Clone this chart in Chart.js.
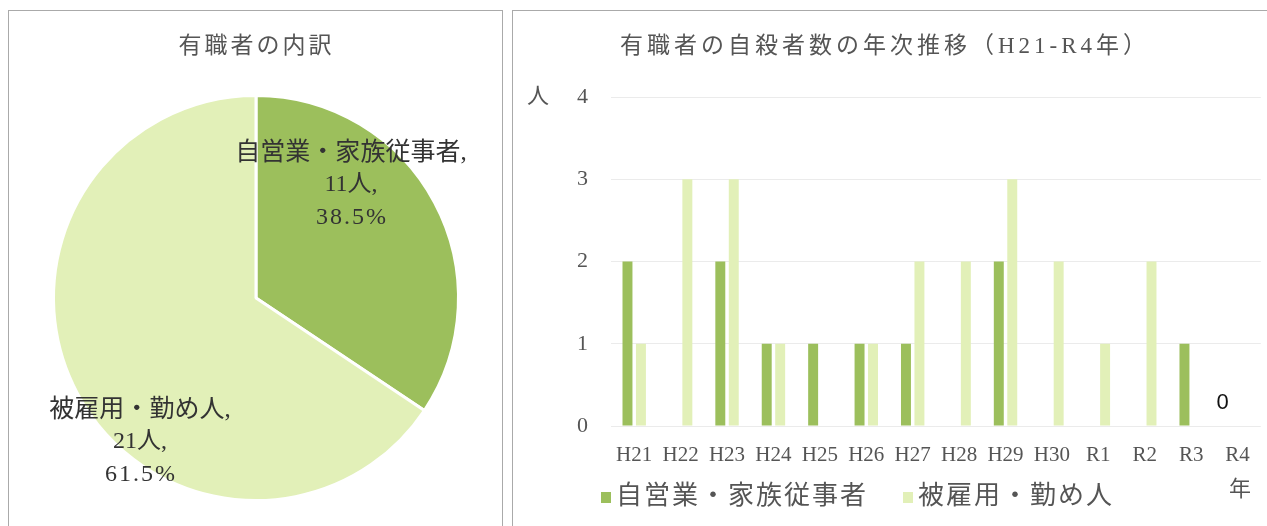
<!DOCTYPE html>
<html>
<head>
<meta charset="utf-8">
<script src="https://cdn.jsdelivr.net/npm/chart.js@4"></script>
<style>
  body { margin: 0; background: #fff; width: 1267px; height: 526px; overflow: hidden; position: relative; }
  .panel { position: absolute; border: 1px solid #aaa; border-bottom: none; box-sizing: border-box; }
  #leftBox { left: 8px; top: 10px; width: 495px; height: 516px; }
  #rightBox { left: 512px; top: 10px; width: 760px; height: 516px; }
  canvas { position: absolute; }
</style>
</head>
<body>
<div class="panel" id="leftBox"></div>
<div class="panel" id="rightBox"></div>
<canvas id="pieChart" style="left:9px; top:11px; width:493px; height:515px;"></canvas>
<canvas id="barChart" style="left:513px; top:11px; width:754px; height:515px;"></canvas>
<script>
// data
const pieLabels = ['自営業・家族従事者', '被雇用・勤め人'];
const pieValues = [11, 21];
const piePercents = ['38.5%', '61.5%'];

const years = ['H21', 'H22', 'H23', 'H24', 'H25', 'H26', 'H27', 'H28', 'H29', 'H30', 'R1', 'R2', 'R3', 'R4'];
const selfEmployed = [2, 0, 2, 1, 1, 1, 1, 0, 2, 0, 0, 0, 1, 0];
const employed = [1, 3, 3, 1, 0, 1, 2, 2, 3, 2, 1, 2, 0, 0];
const yTicks = [0, 1, 2, 3, 4];

const darkGreen = '#9cbf5c';
const lightGreen = '#e2f0b8';
const FONT = '"Liberation Serif", "Noto Sans CJK JP", serif';

function txt(ctx, s, x, y, size, color, spacing, align) {
  ctx.save();
  ctx.font = size + 'px ' + FONT;
  ctx.fillStyle = color;
  ctx.textBaseline = 'middle';
  ctx.letterSpacing = (spacing || 0) + 'px';
  let w = ctx.measureText(s).width;
  let x0 = x;
  if (align === 'center') x0 = x - w / 2 + (spacing || 0) / 2;
  ctx.textAlign = 'left';
  ctx.fillText(s, x0, y);
  ctx.restore();
}

// pie
const pieText = {
  id: 'pieText',
  afterDraw(chart) {
    const ctx = chart.ctx;
    txt(ctx, '有職者の内訳', 246, 36, 23, '#555', 3, 'center');
    const meta = chart.getDatasetMeta(0);
    const offs = [[95, -113], [-116, 144]];
    meta.data.forEach((arc, i) => {
      const cx = arc.x + offs[i][0], cy = arc.y + offs[i][1];
      txt(ctx, pieLabels[i] + ',', cx, cy - 32, 25, '#333', 0, 'center');
      txt(ctx, pieValues[i] + '人,', cx, cy, 24, '#333', 0, 'center');
      txt(ctx, piePercents[i], cx, cy + 33, 24, '#333', 2, 'center');
    });
  }
};

new Chart(document.getElementById('pieChart'), {
  type: 'pie',
  data: {
    labels: pieLabels,
    datasets: [{
      data: pieValues,
      backgroundColor: [darkGreen, lightGreen],
      borderColor: '#fff',
      borderWidth: 3
    }]
  },
  options: {
    responsive: false,
    animation: false,
    layout: { padding: { left: 43, right: 42, top: 83, bottom: 24 } },
    plugins: { legend: { display: false }, tooltip: { enabled: false } }
  },
  plugins: [pieText]
});

// bars
const barText = {
  id: 'barText',
  afterDraw(chart) {
    const ctx = chart.ctx;
    txt(ctx, '有職者の自殺者数の年次推移（H21-R4年）', 370, 36, 23, '#555', 4, 'center');
    txt(ctx, '人', 25, 86, 22, '#555', 0, 'center');
    txt(ctx, '年', 727, 479, 22, '#555', 0, 'center');
    // legend
    ctx.fillStyle = darkGreen;
    ctx.fillRect(88, 481, 10, 11);
    txt(ctx, pieLabels[0], 103, 486, 26, '#555', 2, 'left');
    ctx.fillStyle = lightGreen;
    ctx.fillRect(390, 481, 10, 11);
    txt(ctx, pieLabels[1], 405, 486, 26, '#555', 2, 'left');
    // value label on last year
    const x = chart.scales.x.getPixelForValue(years.length - 1);
    const y = chart.scales.y.getPixelForValue(selfEmployed[years.length - 1]);
    ctx.save();
    ctx.font = '22px "Liberation Sans", sans-serif';
    ctx.fillStyle = '#111';
    ctx.textAlign = 'center';
    ctx.textBaseline = 'middle';
    ctx.fillText('0', x - 15, y - 23);
    ctx.restore();
  }
};

new Chart(document.getElementById('barChart'), {
  type: 'bar',
  data: {
    labels: years,
    datasets: [
      { label: pieLabels[0], data: selfEmployed, backgroundColor: darkGreen },
      { label: pieLabels[1], data: employed, backgroundColor: lightGreen }
    ]
  },
  options: {
    responsive: false,
    animation: false,
    categoryPercentage: 0.58,
    barPercentage: 0.74,
    layout: { padding: { left: 0, right: 4, top: 86, bottom: 50 } },
    scales: {
      x: {
        grid: { display: false, drawTicks: false },
        border: { display: false },
        ticks: { color: '#555', font: { family: FONT, size: 21 }, padding: 17, maxRotation: 0, autoSkip: false },
        afterFit(s) { s.height = 50; }
      },
      y: {
        min: 0, max: 4,
        grid: { color: '#ebebeb', drawTicks: false },
        border: { display: false },
        ticks: {
          stepSize: 1, color: '#555', font: { family: FONT, size: 22 }, padding: 23,
          callback: (v) => yTicks.includes(v) ? v : ''
        },
        afterFit(s) { s.width = 98; }
      }
    },
    plugins: { legend: { display: false }, tooltip: { enabled: false } }
  },
  plugins: [barText]
});
</script>
</body>
</html>
